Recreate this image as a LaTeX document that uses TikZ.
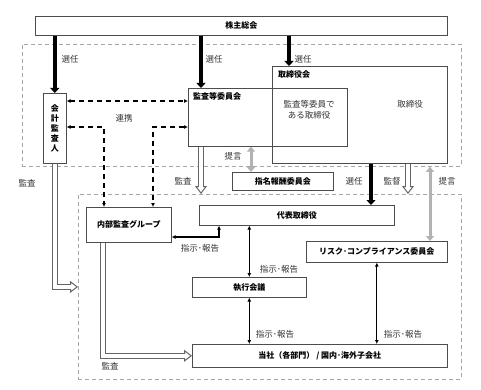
\documentclass[tikz,border=0pt]{standalone}
\usepackage{fontspec}
\setmainfont{Noto Sans CJK JP}
\usetikzlibrary{arrows.meta}

\begin{document}
\begin{tikzpicture}[
    x=1pt, y=-1pt,
    box/.style={draw=black!70, line width=0.6pt, inner sep=0pt, anchor=north west,
                font=\bfseries\fontsize{8}{10}\selectfont},
    head/.style={inner sep=0pt, anchor=west, font=\bfseries\fontsize{8}{10}\selectfont},
    zone/.style={draw=black!35, dash pattern=on 4pt off 3pt, line width=0.8pt, inner sep=0pt, anchor=north west},
    lbl/.style={inner sep=0pt, text=black!80, font=\fontsize{8.5}{10.5}\selectfont},
    elect/.style={line width=3.5pt, -{Triangle[length=5pt, width=9pt]}},
    link/.style={line width=1.2pt, dash pattern=on 5pt off 4pt, {Latex[length=4pt, width=4pt]}-{Latex[length=4pt, width=4pt]}},
    order/.style={line width=1.2pt, {Latex[length=4pt, width=4pt]}-{Latex[length=4pt, width=4pt]}},
    advise/.style={line width=3pt, draw=black!30, {Triangle[length=5pt, width=8pt]}-{Triangle[length=5pt, width=8pt]}},
    hollow/.style={draw=white, line width=1pt, -{Triangle[open, length=8pt, width=12pt, color=black!60]},
                   preaction={draw=black!60, line width=5.6pt, -, shorten >=7.5pt},
                   postaction={draw=white, line width=3.6pt, -, shorten >=6.3pt}},
  ]
  \useasboundingbox (0,0) rectangle (481,390);

  % dashed areas
  \node[zone, minimum width=439pt, minimum height=122pt] (govzone) at (22,44) {};
  \node[zone, minimum width=383pt, minimum height=185pt] (execzone) at (78,194) {};

  % boxes
  \node[box, minimum width=412pt, minimum height=19pt] (agm) at (35,16) {株主総会};
  \node[box, minimum width=23pt, minimum height=70pt, align=center] (acct) at (43,93) {会\\計\\監\\査\\人};
  \node[box, minimum width=175pt, minimum height=97pt] (board) at (272,66) {};
  \node[box, minimum width=159pt, minimum height=58pt] (ac) at (188,88) {};
  \node[head] (boardlbl) at (278,74) {取締役会};
  \node[head] (aclbl) at (193,96) {監査等委員会};
  \node[lbl, align=center] (acdir) at (309,110) {監査等委員で\\ある取締役};
  \node[lbl] (dir) at (410,104) {取締役};
  \node[box, minimum width=101pt, minimum height=18pt] (nom) at (232,172) {指名報酬委員会};
  \node[box, minimum width=195pt, minimum height=20pt] (rep) at (199,205) {代表取締役};
  \node[box, minimum width=85pt, minimum height=35pt] (audit) at (86,207) {内部監査グループ};
  \node[box, minimum width=141pt, minimum height=21pt] (risk) at (306,241) {リスク･コンプライアンス委員会};
  \node[box, minimum width=114pt, minimum height=20pt] (meet) at (192,277) {執行会議};
  \node[box, minimum width=255pt, minimum height=23pt] (company) at (192,344) {当社（各部門） / 国内･海外子会社};

  % columns and bends
  \coordinate (colA) at (201,0);
  \coordinate (colB) at (289,0);
  \coordinate (colC) at (251,0);
  \coordinate (colD) at (371,0);
  \coordinate (colE) at (408,0);
  \coordinate (colF) at (430,0);
  \coordinate (colG) at (103,0);
  \coordinate (row1) at (0,101);
  \coordinate (j1) at (104,127);
  \coordinate (j2) at (153,127);
  \coordinate (j3) at (219,237);

  % election
  \draw[elect] (agm.south -| acct.north) -- (acct.north);
  \draw[elect] (colA |- agm.south) -- (colA |- ac.north);
  \draw[elect] (colB |- agm.south) -- (colB |- board.north);
  \draw[elect] (colD |- board.south) -- (colD |- rep.north);
  \node[lbl] at (70,59) {選任};
  \node[lbl] at (214,59) {選任};
  \node[lbl] at (303,59) {選任};
  \node[lbl] at (354,181) {選任};

  % cooperation
  \draw[link] (row1 -| acct.east) -- (row1 -| ac.west);
  \draw[link] (j1 -| acct.east) -- (j1) -- (j1 |- audit.north);
  \draw[link] (j2 -| ac.west) -- (j2) -- (j2 |- audit.north);
  \node[lbl] at (124,118) {連携};

  % advice
  \draw[advise] (colC |- ac.south) -- (colC |- nom.north);
  \draw[advise] (colF |- govzone.south) -- (colF |- risk.north);
  \node[lbl] at (233,156) {提言};
  \node[lbl] at (447,181) {提言};

  % audit / supervision
  \draw[hollow] (colA |- ac.south) -- (colA |- execzone.north);
  \draw[hollow] (colE |- board.south) -- (colE |- execzone.north);
  \draw[hollow] (acct.south) |- (execzone.west);
  \draw[hollow] (colG |- audit.south) |- (company.west);
  \node[lbl] at (183,181) {監査};
  \node[lbl] at (392,181) {監督};
  \node[lbl] at (27,183) {監査};
  \node[lbl] at (110,366) {監査};

  % instructions and reports
  \draw[order] (j3 -| audit.east) -- (j3) -- (j3 |- rep.south);
  \draw[order] (meet.north |- rep.south) -- (meet.north);
  \draw[order] (meet.south) -- (meet.south |- company.north);
  \draw[order] (risk.south) -- (risk.south |- company.north);
  \node[lbl] at (200,248) {指示･報告};
  \node[lbl] at (279,269) {指示･報告};
  \node[lbl] at (275,334) {指示･報告};
  \node[lbl] at (403,334) {指示･報告};
\end{tikzpicture}
\end{document}
